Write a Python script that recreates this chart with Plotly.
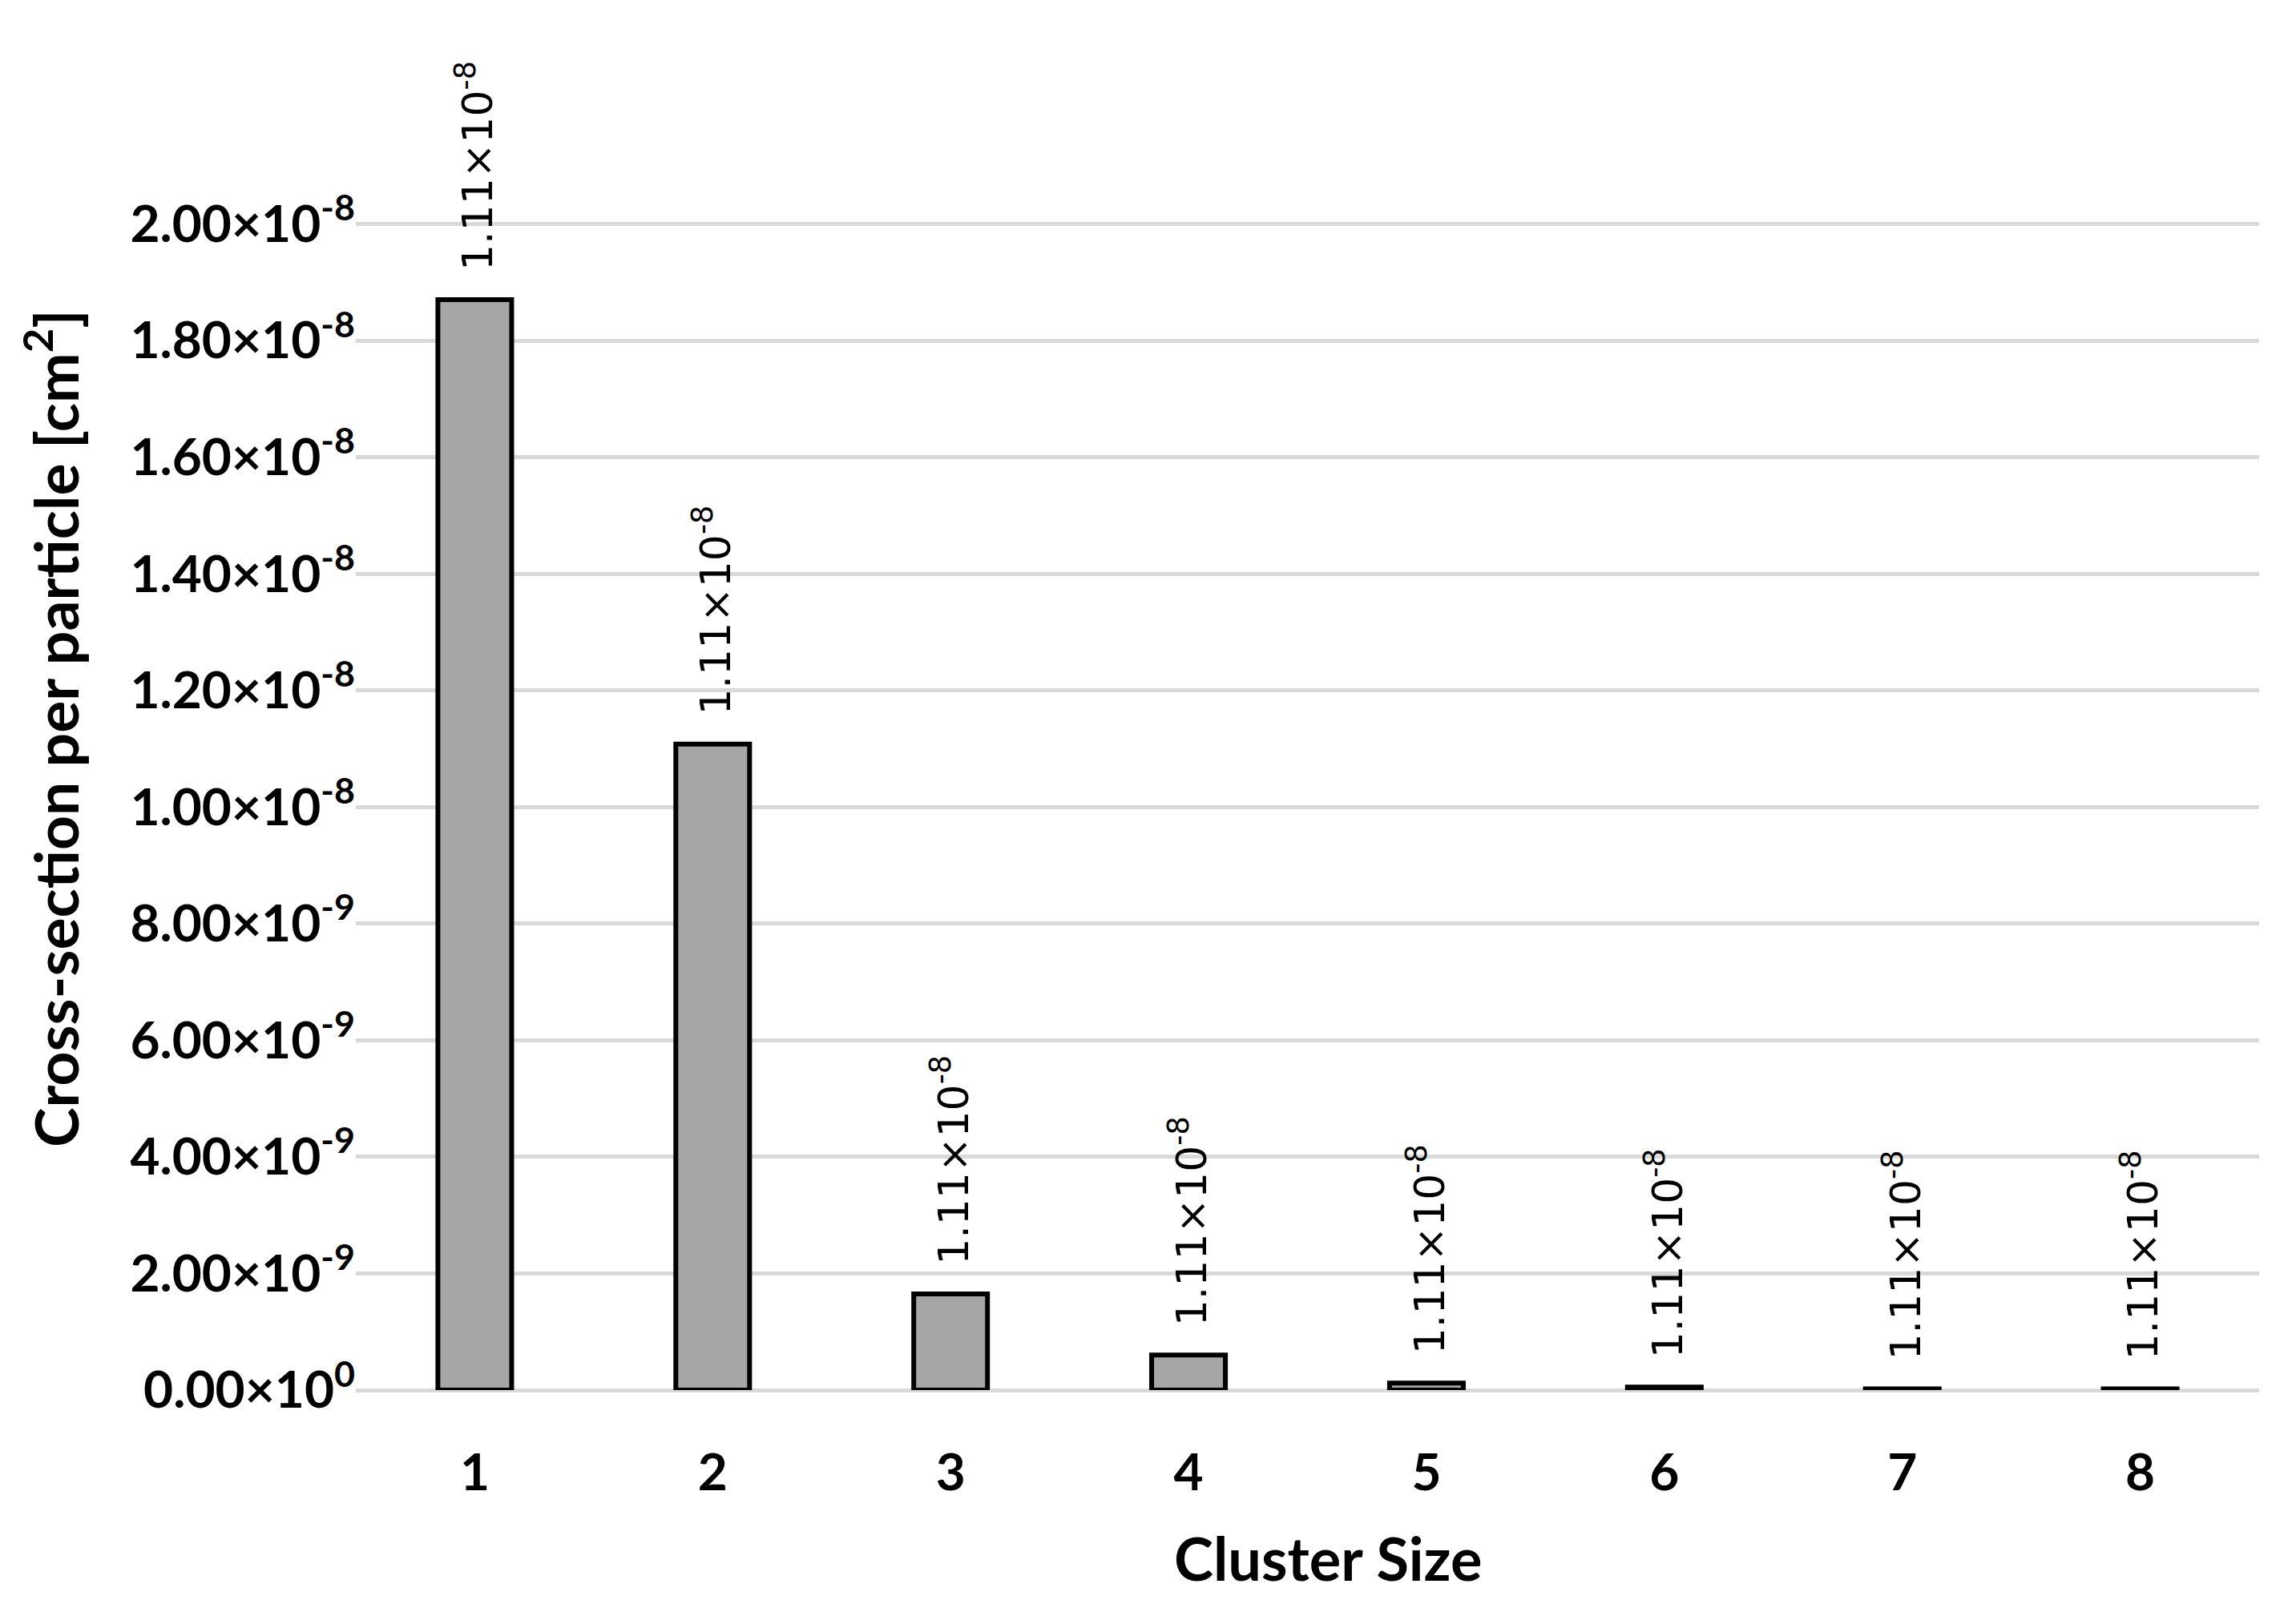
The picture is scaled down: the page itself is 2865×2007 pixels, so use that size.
import plotly.graph_objects as go

# cluster sizes and cross-section per particle [cm^2]
cluster_size = ["1", "2", "3", "4", "5", "6", "7", "8"]
cross_section = [1.87e-8, 1.108e-8, 1.65e-9, 6.0e-10, 1.2e-10, 5e-11, 2e-11, 2e-11]

# the original labels every bar with the same value
bar_labels = ["1.11×10<sup>-8</sup>"] * 8

y_tickvals = [0, 2e-9, 4e-9, 6e-9, 8e-9, 1e-8, 1.2e-8, 1.4e-8, 1.6e-8, 1.8e-8, 2e-8]
y_ticktext = [
    "0.00×10<sup>0</sup>",
    "2.00×10<sup>-9</sup>",
    "4.00×10<sup>-9</sup>",
    "6.00×10<sup>-9</sup>",
    "8.00×10<sup>-9</sup>",
    "1.00×10<sup>-8</sup>",
    "1.20×10<sup>-8</sup>",
    "1.40×10<sup>-8</sup>",
    "1.60×10<sup>-8</sup>",
    "1.80×10<sup>-8</sup>",
    "2.00×10<sup>-8</sup>",
]

bold_font = dict(family="Lato, Open Sans, sans-serif", size=64, color="black", weight="bold")

trace = go.Bar(
    x=cluster_size,
    y=cross_section,
    text=["\u00a0\u00a0" + t for t in bar_labels],
    textposition="outside",
    textangle=-90,
    textfont=dict(family="DejaVu Sans", size=52, color="black"),
    constraintext="none",
    cliponaxis=False,
    marker=dict(color="#a6a6a6", line=dict(color="black", width=6)),
    hoverinfo="x+y",
)

layout = go.Layout(
    width=2865,
    height=2007,
    paper_bgcolor="white",
    plot_bgcolor="white",
    showlegend=False,
    bargap=0.69,
    margin=dict(l=436, r=54, t=270, b=280),
    xaxis=dict(
        type="category",
        showgrid=False,
        showline=False,
        ticks="",
        tickfont=bold_font,
        ticklabelstandoff=60,
    ),
    yaxis=dict(
        range=[0, 2.002e-8],
        tickvals=y_tickvals,
        ticktext=y_ticktext,
        tickfont=bold_font,
        showgrid=True,
        gridcolor="#d9d9d9",
        gridwidth=5,
        zeroline=True,
        zerolinecolor="#d9d9d9",
        zerolinewidth=5,
        showline=False,
        ticks="",
    ),
    annotations=[
        dict(
            text="Cross-section per particle [cm<sup>2</sup>]",
            textangle=-90,
            xref="paper",
            yref="paper",
            x=-0.1600,
            y=0.567,
            xanchor="center",
            yanchor="middle",
            showarrow=False,
            font=dict(bold_font, size=75),
        ),
        dict(
            text="Cluster Size",
            xref="paper",
            yref="paper",
            x=0.5107,
            y=-0.1441,
            xanchor="center",
            yanchor="middle",
            showarrow=False,
            font=dict(bold_font, size=74),
        ),
    ],
)

fig = go.Figure(data=[trace], layout=layout)
fig.write_html("out.html")
